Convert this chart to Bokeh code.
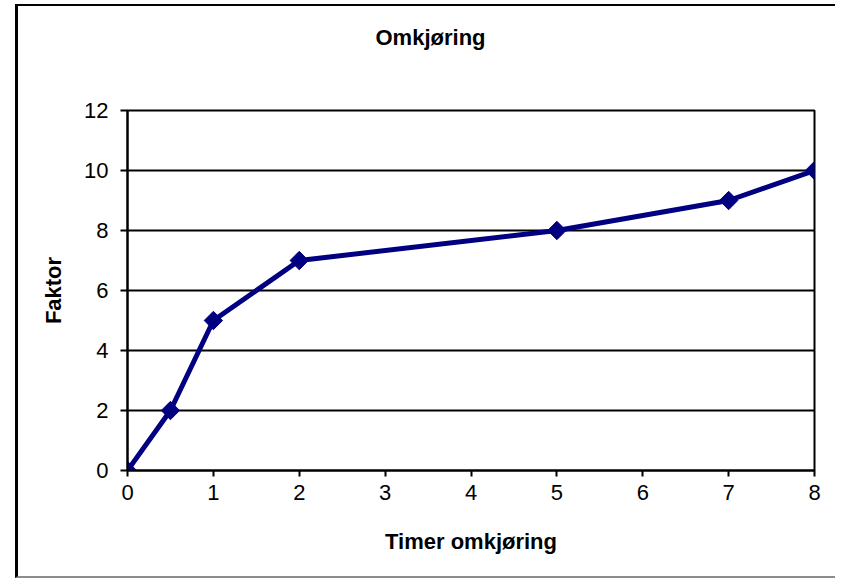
from bokeh.plotting import figure
from bokeh.models import Range1d, FixedTicker, ColumnDataSource, Title
from bokeh.embed import file_html
from bokeh.resources import INLINE
import math

# data
hours = [0, 0.5, 1, 2, 5, 7, 8]
factor = [0, 2, 5, 7, 8, 9, 10]
x_ticks = [0, 1, 2, 3, 4, 5, 6, 7, 8]
y_ticks = [0, 2, 4, 6, 8, 10, 12]
title_text = "Omkjøring"
x_label = "Timer omkjøring"
y_label = "Faktor"

FONT = "Liberation Sans"

p = figure(width=820, height=574, output_backend="svg", toolbar_location=None,
           x_range=Range1d(0, 8), y_range=Range1d(0, 12),
           min_border_left=109, min_border_right=24, min_border_top=104, min_border_bottom=110)

p.styles = {"border-top": "2px solid black", "border-left": "3px solid black",
            "border-bottom": "2px solid #8c8c8c", "margin-left": "15px", "margin-top": "4px",
            "vertical-align": "top"}

p.background_fill_color = "white"
p.border_fill_color = "white"
p.outline_line_color = "black"
p.outline_line_width = 2

# spacer title nearest the frame, then the visible title above it
p.add_layout(Title(text=" ", text_font_size="53px", standoff=0), "above")
p.add_layout(Title(text=title_text, text_font=FONT, text_font_size="22px",
                   text_font_style="bold", text_color="black", align="left",
                   offset=248, standoff=0), "above")

p.xgrid.visible = False
p.ygrid.ticker = FixedTicker(ticks=y_ticks)
p.ygrid.grid_line_color = "black"
p.ygrid.grid_line_width = 2

p.xaxis.ticker = FixedTicker(ticks=x_ticks)
p.yaxis.ticker = FixedTicker(ticks=y_ticks)
for ax in (p.xaxis[0], p.yaxis[0]):
    ax.axis_line_color = "black"
    ax.axis_line_width = 2
    ax.major_tick_line_color = "black"
    ax.major_tick_line_width = 2
    ax.major_tick_in = 0
    ax.minor_tick_line_color = None
    ax.major_label_text_font = FONT
    ax.major_label_text_font_size = "22px"
    ax.major_label_text_color = "black"
    ax.axis_label_text_font = FONT
    ax.axis_label_text_font_size = "22px"
    ax.axis_label_text_font_style = "bold"
    ax.axis_label_text_color = "black"
p.xaxis.major_tick_out = 6
p.yaxis.major_tick_out = 7
p.xaxis.major_label_standoff = 8
p.yaxis.major_label_standoff = 12
p.xaxis.axis_label = x_label
p.yaxis.axis_label = y_label
p.xaxis.axis_label_standoff = 26
p.yaxis.axis_label_standoff = 15

src = ColumnDataSource(dict(x=hours, y=factor))
p.line("x", "y", source=src, line_color="#000080", line_width=5)
p.scatter("x", "y", source=src, marker="square", angle=math.pi / 4, size=13,
          fill_color="#000080", line_color="#000080")

html = file_html(p, INLINE)
html = html.replace("</head>", "<style>html, body { overflow: hidden; }</style></head>", 1)
open("out.html", "w").write(html)
